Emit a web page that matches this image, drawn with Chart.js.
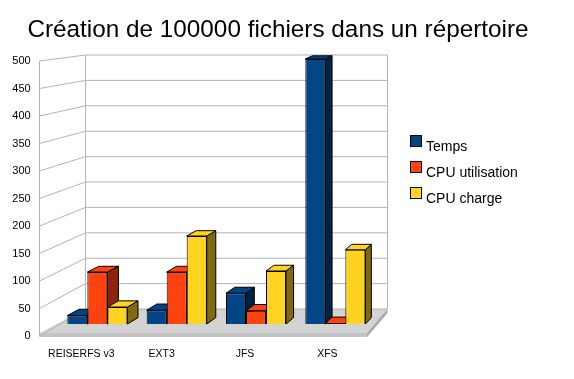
<!DOCTYPE html>
<html>
<head>
<meta charset="utf-8">
<script src="https://cdn.jsdelivr.net/npm/chart.js@4"></script>
<style>
  html, body { margin: 0; padding: 0; background: #fff; }
  canvas { display: block; }
</style>
</head>
<body>
<canvas id="chart" width="574" height="379"></canvas>
<script>
const categories = ['REISERFS v3', 'EXT3', 'JFS', 'XFS'];
const temps = [16, 26, 58, 500];
const cpuUtilisation = [98, 98, 25, 1];
const cpuCharge = [32, 166, 100, 140];
const seriesNames = ['Temps', 'CPU utilisation', 'CPU charge'];
const frontColors = ['#004586', '#ff420e', '#ffd320'];
const sideColors = ['#002343', '#8f2508', '#80690f'];

const fontName = '"Liberation Sans", Arial, sans-serif';

// the 3D shell: walls, floor, bar sides. chart.js only knows flat bars
const shell = {
  id: 'shell',
  beforeDatasetsDraw(chart) {
    const ctx = chart.ctx;
    const axis = chart.scales.yAxis;
    const back = chart.scales.yBack;
    const frontX = 39.5, backX = 85.5, rightX = 387.5, floorRightX = 367;
    const floorY = 333;

    ctx.save();
    ctx.fillStyle = '#d3d3d3';
    polygon(ctx, [[frontX, floorY], [backX, back.getPixelForValue(0)], [rightX, back.getPixelForValue(0)], [floorRightX, floorY]]);
    ctx.fill();
    ctx.fillStyle = '#c4c4c4';
    polygon(ctx, [[frontX, floorY], [floorRightX, floorY], [floorRightX, floorY + 4], [frontX, floorY + 4]]);
    ctx.fill();
    ctx.fillStyle = '#a8a8a8';
    polygon(ctx, [[floorRightX, floorY], [rightX, back.getPixelForValue(0)], [rightX, back.getPixelForValue(0) + 4], [floorRightX, floorY + 4]]);
    ctx.fill();

    ctx.strokeStyle = '#b3b3b3';
    ctx.lineWidth = 1;
    axis.ticks.forEach(t => {
      const yFront = axis.getPixelForValue(t.value);
      const yBackWall = back.getPixelForValue(t.value);
      line(ctx, frontX, yFront, backX, yBackWall);
      line(ctx, backX, yBackWall, rightX, yBackWall);
    });
    const top = back.getPixelForValue(500), bottom = back.getPixelForValue(0);
    line(ctx, frontX, axis.getPixelForValue(500), frontX, axis.getPixelForValue(0));
    line(ctx, backX, top, backX, bottom);
    line(ctx, rightX, top, rightX, bottom);

    // sides and tops, left to right, the native fronts go over them after this
    ctx.strokeStyle = '#000';
    chart.data.labels.forEach((_, i) => {
      chart.data.datasets.forEach((ds, d) => {
        const bar = chart.getDatasetMeta(d).data[i];
        const left = bar.x - bar.width / 2, right = bar.x + bar.width / 2;
        ctx.fillStyle = sideColors[d];
        polygon(ctx, [[right, bar.y], depth(right, bar.y), depth(right, bar.base), [right, bar.base]]);
        ctx.fill();
        ctx.stroke();
        ctx.fillStyle = frontColors[d];
        polygon(ctx, [[left, bar.y], depth(left, bar.y), depth(right, bar.y), [right, bar.y]]);
        ctx.fill();
        ctx.stroke();
      });
    });
    ctx.restore();
  },
  afterDraw(chart) {
    const ctx = chart.ctx;
    const x = chart.scales.x;
    ctx.save();
    ctx.fillStyle = '#000';
    ctx.textBaseline = 'middle';

    // category labels sit left of their groups, by a different amount each
    const shifts = [-16, -15, -11, -8];
    ctx.font = '10.5px ' + fontName;
    ctx.textAlign = 'center';
    categories.forEach((c, i) => ctx.fillText(c, x.getPixelForValue(i) + shifts[i], 354));

    // legend, text hangs a little lower than the swatch
    ctx.font = '14px ' + fontName;
    ctx.textAlign = 'left';
    chart.data.datasets.forEach((ds, d) => {
      const y = 135.5 + d * 26;
      ctx.fillStyle = ds.backgroundColor;
      ctx.strokeStyle = '#000';
      ctx.lineWidth = 1;
      ctx.fillRect(410.5, y, 11, 11);
      ctx.strokeRect(410.5, y, 11, 11);
      ctx.fillStyle = '#000';
      ctx.fillText(ds.label, 426, y + 12);
    });
    ctx.restore();
  }
};

function polygon(ctx, points) {
  ctx.beginPath();
  points.forEach((p, i) => i ? ctx.lineTo(p[0], p[1]) : ctx.moveTo(p[0], p[1]));
  ctx.closePath();
}

function line(ctx, x1, y1, x2, y2) {
  ctx.beginPath();
  ctx.moveTo(x1, y1);
  ctx.lineTo(x2, y2);
  ctx.stroke();
}

// depth of a bar shrinks toward the right and the top, rough perspective
function depth(x, y) {
  return [x + 13.1 - 0.0195 * x, y - (2.5 + 0.012 * y)];
}

new Chart(document.getElementById('chart'), {
  type: 'bar',
  data: {
    labels: categories,
    datasets: [temps, cpuUtilisation, cpuCharge].map((values, d) => ({
      label: seriesNames[d],
      data: values,
      backgroundColor: frontColors[d],
      borderColor: '#000',
      borderWidth: 1,
      clip: false,
      categoryPercentage: 0.757,
      barPercentage: 1,
    })),
  },
  plugins: [shell],
  options: {
    responsive: false,
    animation: false,
    // right padding keeps the title centred on 278, yBack holds the legend's room
    layout: { padding: { left: 0, right: 18, top: 0, bottom: 43 } },
    plugins: {
      legend: { display: false },
      tooltip: { enabled: false },
      title: {
        display: true,
        text: 'Création de 100000 fichiers dans un répertoire',
        color: '#000',
        font: { family: fontName, size: 24.3, weight: 'normal', lineHeight: 1.2 },
        padding: { top: 16, bottom: 15.84 },
      },
    },
    scales: {
      x: { display: false },
      // bars stand on their own plane, between the front axis and the back wall
      y: { display: false, min: -22.6, max: 496.2 },
      yBack: {
        position: 'right',
        min: -53.1,
        max: 488.2,
        afterFit(scale) { scale.width = 181; },
        grid: { display: false, drawTicks: false },
        border: { display: false },
        ticks: { display: false },
      },
      yAxis: {
        position: 'left',
        min: 0,
        max: 500,
        afterFit(scale) { scale.width = 57.7; },
        grid: { display: false, drawTicks: false },
        border: { display: false },
        ticks: {
          stepSize: 50,
          padding: 27,
          color: '#000',
          font: { family: fontName, size: 11 },
        },
      },
    },
  },
});
</script>
</body>
</html>
